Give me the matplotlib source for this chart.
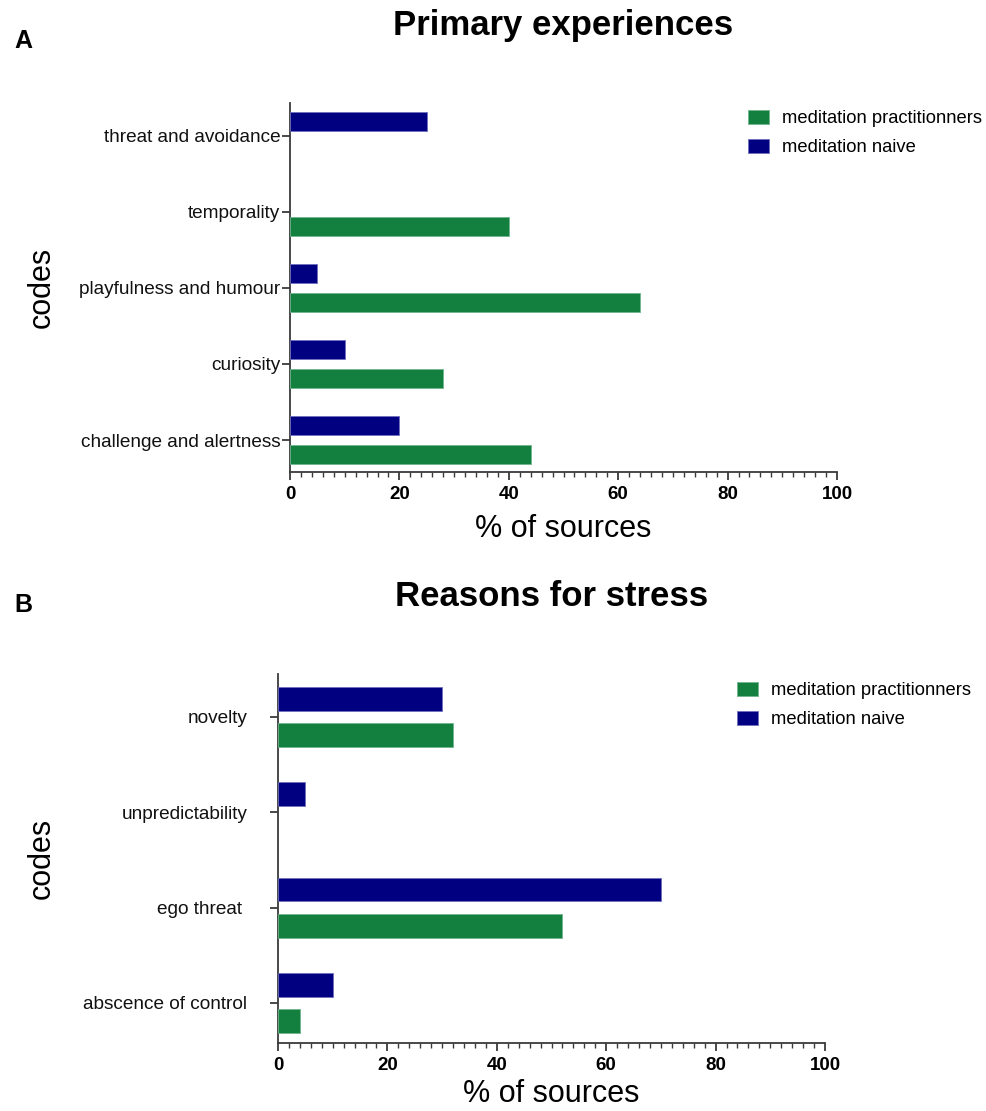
import numpy as np
import matplotlib
matplotlib.use("Agg")
import matplotlib.pyplot as plt
from matplotlib.ticker import MultipleLocator

GREEN = "#138040"
NAVY = "#000080"
AXIS = "#3a3a3a"
NARROW = ["Liberation Sans Narrow", "Liberation Sans", "DejaVu Sans"]

plt.rcParams["font.family"] = ["Liberation Sans", "DejaVu Sans"]

SERIES = ["meditation practitionners", "meditation naive"]

# panel A, listed bottom to top
codes_a = ["challenge and alertness", "curiosity", "playfulness and humour",
           "temporality", "threat and avoidance"]
practitioners_a = [44, 28, 64, 40, 0]
naive_a = [20, 10, 5, 0, 25]

# panel B, listed bottom to top
codes_b = ["abscence of control", "ego threat ", "unpredictability", "novelty"]
practitioners_b = [4, 52, 0, 32]
naive_b = [10, 70, 5, 30]

W, H = 986, 1111


def edges(vals, col):
    # no outline on empty bars, otherwise a sliver shows on the axis
    return [col if v > 0 else "none" for v in vals]


def draw_panel(ax, codes, prac, naive, ytop, label_pad, xlabel_pad):
    y = np.arange(len(codes))
    ax.barh(y - 0.19, prac, height=0.25, color=GREEN,
            edgecolor=edges(prac, "#6fb58c"), linewidth=0.6,
            label=SERIES[0], zorder=3)
    ax.barh(y + 0.19, naive, height=0.25, color=NAVY,
            edgecolor=edges(naive, "#6f6fc0"), linewidth=0.6,
            label=SERIES[1], zorder=3)
    ax.set_xlim(0, 100)
    ax.set_ylim(-0.42, ytop)
    ax.set_yticks(y)
    ax.set_yticklabels(codes, fontsize=13.7, color="#111111")
    ax.xaxis.set_major_locator(MultipleLocator(20))
    ax.xaxis.set_minor_locator(MultipleLocator(2))
    ax.tick_params(axis="x", which="major", length=6, width=1.3, color=AXIS,
                   labelsize=13.5, pad=4)
    ax.tick_params(axis="x", which="minor", length=3.5, width=1.0, color=AXIS)
    ax.tick_params(axis="y", length=6, width=1.3, color=AXIS, pad=label_pad)
    for lab in ax.get_xticklabels():
        lab.set_family(NARROW)
        lab.set_fontweight("bold")
    for s in ("top", "right"):
        ax.spines[s].set_visible(False)
    for s in ("left", "bottom"):
        ax.spines[s].set_color(AXIS)
        ax.spines[s].set_linewidth(1.3)
    ax.set_xlabel("% of sources", fontsize=22, labelpad=xlabel_pad)
    ax.set_ylabel("codes", fontsize=22)


fig = plt.figure(figsize=(W / 100, H / 100), dpi=100)

ax_a = fig.add_axes([290 / W, 1 - 472 / H, 547 / W, 369 / H])
draw_panel(ax_a, codes_a, practitioners_a, naive_a, 4.43, 1, 8)
ax_a.yaxis.set_label_coords(-0.426, 0.5)

ax_b = fig.add_axes([278 / W, 1 - 1043 / H, 547 / W, 369 / H])
draw_panel(ax_b, codes_b, practitioners_b, naive_b, 3.45, 16, 4)
ax_b.yaxis.set_label_coords(-0.404, 0.5)

legend_kw = dict(loc="upper left", frameon=False, fontsize=13.2, borderpad=0,
                 handlelength=1.15, handleheight=0.75, handletextpad=0.7,
                 labelspacing=0.65, bbox_transform=fig.transFigure)
ax_a.legend(bbox_to_anchor=(739 / W, 1 - 101 / H), **legend_kw)
ax_b.legend(bbox_to_anchor=(728 / W, 1 - 673 / H), **legend_kw)

fig.text(563 / W, 1 - 25 / H, "Primary experiences", ha="center", va="center",
         fontsize=25, fontweight="bold", family=NARROW)
fig.text(552 / W, 1 - 597 / H, "Reasons for stress", ha="center", va="center",
         fontsize=25, fontweight="bold", family=NARROW)
fig.text(14 / W, 1 - 41 / H, "A", ha="left", va="center", fontsize=18,
         fontweight="bold", family=NARROW)
fig.text(14 / W, 1 - 605 / H, "B", ha="left", va="center", fontsize=18,
         fontweight="bold", family=NARROW)

fig.savefig("out.png", dpi=100)
